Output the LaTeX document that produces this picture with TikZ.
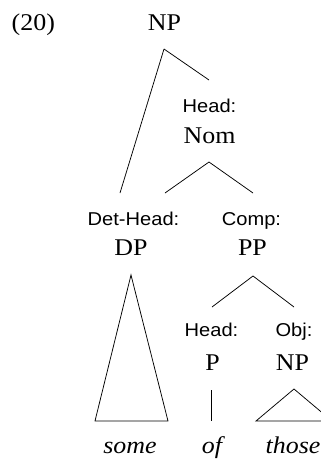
\documentclass[tikz,border=0pt]{standalone}
\usepackage{fontspec}
\setmainfont{Liberation Serif}[FakeStretch=1.08]
\newfontfamily\fnfont{Liberation Sans}[FakeStretch=1.08]
\begin{document}
\begin{tikzpicture}[x=1pt,y=-1pt,
  every node/.style={inner sep=0pt,anchor=base},
  cat/.style={font=\fontsize{24}{28}\selectfont},
  fn/.style={font=\fnfont\fontsize{18.6}{22}\selectfont},
  word/.style={font=\fontsize{24}{28}\selectfont\itshape},
  branch/.style={line width=0.75pt,line join=miter}]
\useasboundingbox (0,0) rectangle (321,459);

% example number
\node[cat,anchor=base west] (exnum) at (11.5,30.5) {(20)};

% root
\node[cat] (np) at (164.5,30.5) {NP};

% head nominal
\node[fn]  (nomfn)  at (209.5,112.7) {Head:};
\node[cat] (nom)    at (209.5,143.3) {Nom};

% determiner head and complement
\node[fn]  (dpfn)   at (133.5,225) {Det-Head:};
\node[cat] (dp)     at (131,255) {DP};
\node[fn]  (ppfn)   at (251.5,225) {Comp:};
\node[cat] (pp)     at (252.5,255) {PP};

% preposition and its object
\node[fn]  (pfn)    at (211.5,336.7) {Head:};
\node[cat] (p)      at (212.5,370) {P};
\node[fn]  (objfn)  at (294,336.7) {Obj:};
\node[cat] (obj)    at (292.5,370) {NP};

% terminal words
\node[word] (some)  at (130,453) {some};
\node[word] (of)    at (212,453) {of};
\node[word] (those) at (293,453) {those};

% branch end points
\coordinate (np-foot)   at (164,49);
\coordinate (nom-top)   at (209,80);
\coordinate (dp-top)    at (120,193);
\coordinate (nom-foot)  at (209,162);
\coordinate (dp-top2)   at (165,193);
\coordinate (pp-top)    at (253,193);
\coordinate (dp-foot)   at (131,275);
\coordinate (some-l)    at (95,421);
\coordinate (some-r)    at (168,421);
\coordinate (pp-foot)   at (253,276);
\coordinate (p-top)     at (212,307);
\coordinate (obj-top)   at (294,307);
\coordinate (p-foot)    at (211,390);
\coordinate (of-top)    at (211,421);
\coordinate (obj-foot)  at (294,389);
\coordinate (those-l)   at (256,421);
\coordinate (those-r)   at (332,421);

% branches
\draw[branch] (np-foot) -- (nom-top);
\draw[branch] (np-foot) -- (dp-top);
\draw[branch] (dp-top2) -- (nom-foot) -- (pp-top);
\draw[branch] (some-l) -- (dp-foot) -- (some-r) -- cycle;
\draw[branch] (p-top) -- (pp-foot) -- (obj-top);
\draw[branch] (p-foot) -- (of-top);
\draw[branch] (those-l) -- (obj-foot) -- (those-r) -- cycle;
\end{tikzpicture}
\end{document}
